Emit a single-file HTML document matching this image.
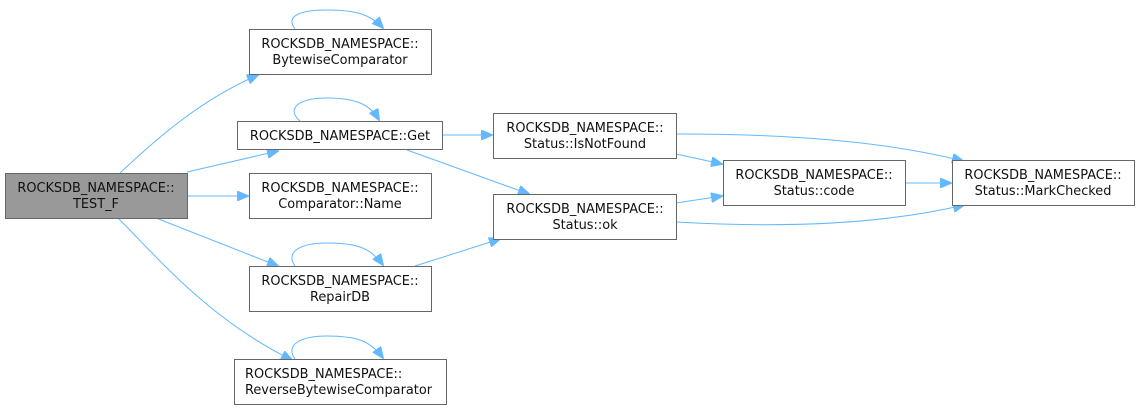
<!DOCTYPE html>
<html><head><meta charset="utf-8"><style>
html,body{margin:0;padding:0;background:#fff;width:1139px;height:410px;overflow:hidden}
text{font-family:"DejaVu Sans","Liberation Sans",sans-serif;font-size:12.9px;fill:#111}
</style></head><body>
<svg width="1139" height="410" viewBox="0 0 1139 410" xmlns="http://www.w3.org/2000/svg">
<defs><marker id="a" markerWidth="12" markerHeight="10" refX="11" refY="5" orient="auto" markerUnits="userSpaceOnUse"><path d="M0,0 L12,5 L0,10 z" fill="#63b8ff" stroke="#63b8ff"/></marker></defs>
<g fill="none" stroke="#63b8ff" stroke-width="1" marker-end="url(#a)">
<path d="M120,173 C155,140 200,100 258,75"/>
<path d="M187,172 L278,151"/>
<path d="M187,196 L248,196"/>
<path d="M156,218 L278,266"/>
<path d="M118,218 C160,260 210,320 292,360"/>
<path d="M295,29 C285,16 300,10 327,10 C355,10 370,14 383,28"/>
<path d="M300,121 C285,108 300,98 327,98 C355,98 370,104 379,120"/>
<path d="M295,266 C285,252 300,243 327,243 C355,243 370,247 383,265"/>
<path d="M295,359 C285,345 300,336 327,336 C355,336 370,340 383,358"/>
<path d="M442,135 L492,135"/>
<path d="M407,150 L529,194"/>
<path d="M415,266 L500,239"/>
<path d="M676,134 C780,134 880,140 963,161"/>
<path d="M676,154 L722,164"/>
<path d="M676,203 L722,196"/>
<path d="M676,222 C780,228 880,225 964,205"/>
<path d="M905,183 L951,183"/>
</g>
<g stroke="#666" stroke-width="1">
<rect x="5.5" y="173.5" width="182" height="45" fill="#999"/>
<rect x="249.5" y="29.5" width="182" height="45" fill="#fff"/>
<rect x="237.5" y="121.5" width="205" height="28" fill="#fff"/>
<rect x="249.5" y="173.5" width="182" height="45" fill="#fff"/>
<rect x="249.5" y="266.5" width="182" height="45" fill="#fff"/>
<rect x="234.5" y="359.5" width="212" height="45" fill="#fff"/>
<rect x="493.5" y="113.5" width="183" height="45" fill="#fff"/>
<rect x="493.5" y="194.5" width="183" height="45" fill="#fff"/>
<rect x="723.5" y="160.5" width="182" height="45" fill="#fff"/>
<rect x="952.5" y="160.5" width="182" height="45" fill="#fff"/>
</g>
<g text-anchor="middle">
<text x="96" y="192">ROCKSDB_NAMESPACE::</text><text x="96" y="208">TEST_F</text>
<text x="340" y="48">ROCKSDB_NAMESPACE::</text><text x="340" y="64">BytewiseComparator</text>
<text x="340" y="140">ROCKSDB_NAMESPACE::Get</text>
<text x="340" y="192">ROCKSDB_NAMESPACE::</text><text x="340" y="208">Comparator::Name</text>
<text x="340" y="285">ROCKSDB_NAMESPACE::</text><text x="340" y="301">RepairDB</text>
<text x="585" y="132">ROCKSDB_NAMESPACE::</text><text x="585" y="148">Status::IsNotFound</text>
<text x="585" y="213">ROCKSDB_NAMESPACE::</text><text x="585" y="229">Status::ok</text>
<text x="814" y="179">ROCKSDB_NAMESPACE::</text><text x="814" y="195">Status::code</text>
<text x="1043" y="179">ROCKSDB_NAMESPACE::</text><text x="1043" y="195">Status::MarkChecked</text>
</g>
<text x="245" y="378">ROCKSDB_NAMESPACE::</text><text x="245" y="394">ReverseBytewiseComparator</text>
</svg>
</body></html>
